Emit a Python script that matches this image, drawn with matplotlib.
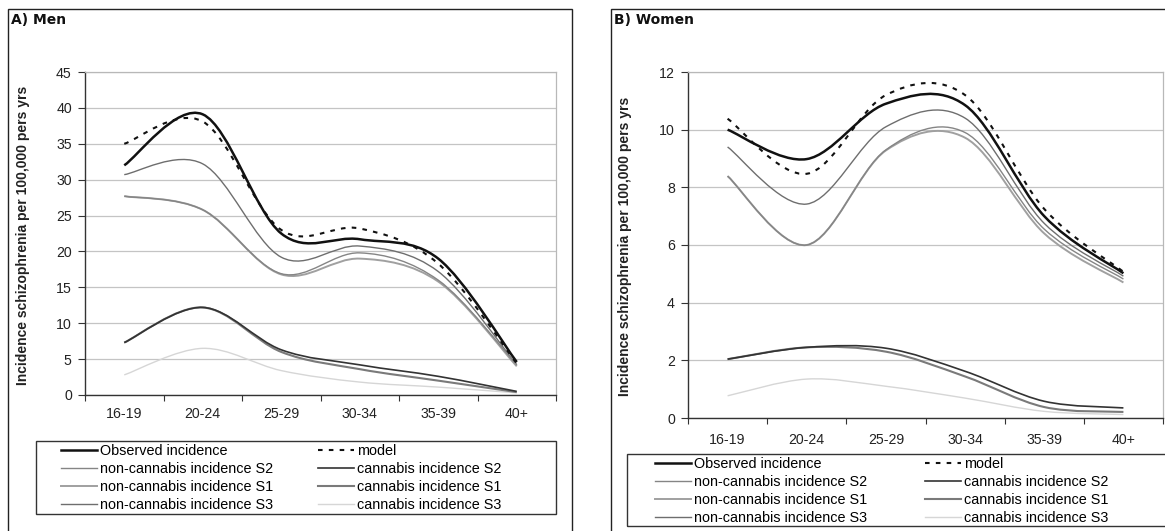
import matplotlib
matplotlib.use("Agg")
import matplotlib.pyplot as plt
from matplotlib.path import Path
from matplotlib.patches import PathPatch, Rectangle
from matplotlib.lines import Line2D
import numpy as np

plt.rcParams['font.family'] = ['Liberation Sans', 'DejaVu Sans']

categories = ["16-19", "20-24", "25-29", "30-34", "35-39", "40+"]

# Panel A: Men
men_observed = [32.0, 39.1, 22.5, 21.7, 19.0, 4.6]
men_model = [35.0, 38.1, 23.0, 23.2, 18.3, 4.4]
men_noncannabis_s2 = [27.7, 25.8, 16.9, 19.8, 16.0, 4.2]
men_noncannabis_s1 = [27.7, 25.8, 16.8, 19.0, 15.8, 4.0]
men_noncannabis_s3 = [30.7, 32.2, 19.2, 20.75, 17.2, 4.2]
men_cannabis_s2 = [7.3, 12.2, 6.3, 4.2, 2.6, 0.5]
men_cannabis_s1 = [7.3, 12.2, 6.0, 3.6, 2.0, 0.4]
men_cannabis_s3 = [2.8, 6.5, 3.4, 1.8, 1.1, 0.3]

# Panel B: Women
women_observed = [10.0, 8.98, 10.9, 10.85, 7.0, 5.02]
women_model = [10.38, 8.47, 11.2, 11.2, 7.25, 5.07]
women_noncannabis_s2 = [8.39, 6.0, 9.3, 9.9, 6.55, 4.82]
women_noncannabis_s1 = [8.39, 6.0, 9.28, 9.72, 6.4, 4.7]
women_noncannabis_s3 = [9.4, 7.42, 10.1, 10.4, 6.75, 4.92]
women_cannabis_s2 = [2.04, 2.45, 2.42, 1.62, 0.58, 0.35]
women_cannabis_s1 = [2.04, 2.45, 2.3, 1.44, 0.38, 0.21]
women_cannabis_s3 = [0.77, 1.35, 1.1, 0.69, 0.23, 0.12]

styles = {
    "Observed incidence": dict(color="#111111", lw=1.8, ls="-"),
    "model": dict(color="#111111", lw=1.5, ls=(0, (2.2, 3.0))),
    "non-cannabis incidence S2": dict(color="#858585", lw=1.0, ls="-"),
    "cannabis incidence S2": dict(color="#333333", lw=1.2, ls="-"),
    "non-cannabis incidence S1": dict(color="#a0a0a0", lw=1.4, ls="-"),
    "cannabis incidence S1": dict(color="#7a7a7a", lw=1.5, ls="-"),
    "non-cannabis incidence S3": dict(color="#6e6e6e", lw=1.0, ls="-"),
    "cannabis incidence S3": dict(color="#d6d6d6", lw=1.0, ls="-"),
}


def smooth_path(values):
    """Excel-style smoothed line: Bezier segments through the category points."""
    xs = np.arange(len(values)) + 0.5
    pts = np.column_stack([xs, np.asarray(values, float)])
    n = len(pts)
    verts = [pts[0]]
    codes = [Path.MOVETO]
    for i in range(n - 1):
        p0 = pts[i - 1] if i > 0 else pts[i]
        p1 = pts[i]
        p2 = pts[i + 1]
        p3 = pts[i + 2] if i + 2 < n else pts[i + 1]
        c1 = p1 + (p2 - p0) / 6.0
        c2 = p2 - (p3 - p1) / 6.0
        verts += [c1, c2, p2]
        codes += [Path.CURVE4] * 3
    return Path(verts, codes)


W, H = 1165, 531
fig = plt.figure(figsize=(W / 100, H / 100), dpi=100)


def fx(px):
    return px / W


def fy(py):
    return 1 - py / H


# panel frames
fig.patches.append(Rectangle((fx(8), fy(540)), fx(572) - fx(8), fy(9) - fy(540),
                             transform=fig.transFigure, fill=False, ec="#222222", lw=1.0))
fig.patches.append(Rectangle((fx(611), fy(540)), fx(1180) - fx(611), fy(9) - fy(540),
                             transform=fig.transFigure, fill=False, ec="#222222", lw=1.0))

fig.text(fx(11), fy(20), "A) Men", fontsize=10, fontweight="bold", va="center", ha="left",
         family="DejaVu Sans", color="#111111")
fig.text(fx(614), fy(20), "B) Women", fontsize=10, fontweight="bold", va="center", ha="left",
         family="DejaVu Sans", color="#111111")


def make_panel(rect, label_x, data, ymax, ystep, xpad, leg_box, leg_anchor, colspacing):
    ax = fig.add_axes(rect)
    ax.set_xlim(0, 6)
    ax.set_ylim(0, ymax)
    order = ["cannabis incidence S3", "cannabis incidence S1", "cannabis incidence S2",
             "non-cannabis incidence S3", "non-cannabis incidence S1",
             "non-cannabis incidence S2", "model", "Observed incidence"]
    for name in order:
        st = styles[name]
        patch = PathPatch(smooth_path(data[name]), fill=False, ec=st["color"],
                          lw=st["lw"], ls=st["ls"], capstyle="butt", joinstyle="round")
        ax.add_patch(patch)
    ax.set_yticks(np.arange(0, ymax + 0.1, ystep))
    ax.set_xticks(np.arange(0, 7))
    ax.set_xticklabels([])
    ax.set_xticks(np.arange(6) + 0.5, minor=True)
    ax.set_xticklabels(categories, minor=True)
    ax.tick_params(axis="x", which="minor", length=0, pad=xpad, labelsize=10.2,
                   colors="#222222")
    ax.tick_params(axis="x", which="major", length=4, direction="out", color="#333333")
    ax.tick_params(axis="y", length=5, direction="out", color="#333333", pad=4.5,
                   labelsize=10.2, labelcolor="#222222")
    ax.grid(axis="y", color="#c4c4c4", lw=0.9)
    ax.set_axisbelow(True)
    for s in ["top", "right"]:
        ax.spines[s].set_color("#b8b8b8")
        ax.spines[s].set_linewidth(0.9)
    for s in ["left", "bottom"]:
        ax.spines[s].set_color("#333333")
        ax.spines[s].set_linewidth(1.0)
    ax.set_ylabel("Incidence schizophrenia per 100,000 pers yrs", fontsize=10,
                  fontweight="bold", color="#222222")
    ax.yaxis.set_label_coords(label_x, 0.495)

    # legend box
    x0, y0, x1, y1 = leg_box
    fig.patches.append(Rectangle((fx(x0), fy(y1)), fx(x1) - fx(x0), fy(y0) - fy(y1),
                                 transform=fig.transFigure, fill=False, ec="#333333", lw=1.0))
    col_order = ["Observed incidence", "non-cannabis incidence S2",
                 "non-cannabis incidence S1", "non-cannabis incidence S3",
                 "model", "cannabis incidence S2", "cannabis incidence S1",
                 "cannabis incidence S3"]
    handles = [Line2D([], [], color=styles[n]["color"], lw=styles[n]["lw"],
                      ls=styles[n]["ls"]) for n in col_order]
    fig.legend(handles, col_order, loc="upper left",
               bbox_to_anchor=(fx(leg_anchor[0]), fy(leg_anchor[1])),
               bbox_transform=fig.transFigure, ncol=2, frameon=False,
               fontsize=10.4, handlelength=2.5, handletextpad=0.2,
               columnspacing=colspacing, labelspacing=0.27, borderpad=0,
               borderaxespad=0)
    return ax


men = {
    "Observed incidence": men_observed, "model": men_model,
    "non-cannabis incidence S2": men_noncannabis_s2,
    "non-cannabis incidence S1": men_noncannabis_s1,
    "non-cannabis incidence S3": men_noncannabis_s3,
    "cannabis incidence S2": men_cannabis_s2,
    "cannabis incidence S1": men_cannabis_s1,
    "cannabis incidence S3": men_cannabis_s3,
}
women = {
    "Observed incidence": women_observed, "model": women_model,
    "non-cannabis incidence S2": women_noncannabis_s2,
    "non-cannabis incidence S1": women_noncannabis_s1,
    "non-cannabis incidence S3": women_noncannabis_s3,
    "cannabis incidence S2": women_cannabis_s2,
    "cannabis incidence S1": women_cannabis_s1,
    "cannabis incidence S3": women_cannabis_s3,
}

rectA = [fx(85), fy(395), fx(556) - fx(85), fy(72) - fy(395)]
rectB = [fx(688), fy(418), fx(1163) - fx(688), fy(72) - fy(418)]

make_panel(rectA, (30 - 85) / 471, men, 45, 5, 8.5, (36, 441, 556, 514), (61, 444), 3.1)
make_panel(rectB, (632 - 688) / 475, women, 12, 2, 11, (627, 454, 1175, 526), (655, 457), 4.0)

fig.savefig("out.png", dpi=100)
